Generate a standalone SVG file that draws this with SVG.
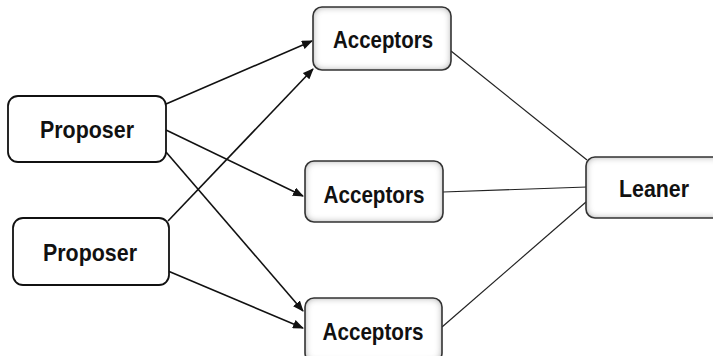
<svg xmlns="http://www.w3.org/2000/svg" width="713" height="356" viewBox="0 0 713 356">
  <style>
    .plain { fill: #ffffff; stroke: #111111; stroke-width: 1.8; }
    .shade { fill: #ffffff; filter: url(#inset); }
    .edge { fill: none; stroke: #333333; stroke-width: 1.6; }
    .lbl { font-family: "Liberation Sans", Arial, sans-serif; font-weight: bold; font-size: 24px; fill: #111111; text-anchor: middle; }
    .arrow { fill: none; stroke: #111111; stroke-width: 1.6; marker-end: url(#head); }
    .link { fill: none; stroke: #222222; stroke-width: 1.2; }
  </style>
  <defs>
    <marker id="head" markerUnits="userSpaceOnUse" markerWidth="11" markerHeight="9" refX="10" refY="4.5" orient="auto">
      <path d="M0,0 L11,4.5 L0,9 z" fill="#111111"/>
    </marker>
    <!-- soft grey glow along the inside edge of shaded boxes -->
    <filter id="inset" x="-10%" y="-10%" width="120%" height="120%">
      <feFlood flood-color="#8c8c8c"/>
      <feComposite in2="SourceAlpha" operator="out"/>
      <feGaussianBlur stdDeviation="3.5"/>
      <feComposite in2="SourceAlpha" operator="in" result="shadow"/>
      <feMerge>
        <feMergeNode in="SourceGraphic"/>
        <feMergeNode in="shadow"/>
      </feMerge>
    </filter>
  </defs>
  <rect width="713" height="356" fill="#ffffff"/>

  <g id="connectors">
    <line class="arrow" x1="166" y1="104" x2="312" y2="41"/>
    <line class="arrow" x1="168" y1="221" x2="313" y2="69"/>
    <line class="arrow" x1="166" y1="130" x2="303" y2="196"/>
    <line class="arrow" x1="166" y1="152" x2="303" y2="311"/>
    <line class="arrow" x1="168" y1="271" x2="303" y2="328"/>
    <line class="link" x1="451" y1="51" x2="587" y2="160"/>
    <line class="link" x1="443" y1="192" x2="587" y2="187"/>
    <line class="link" x1="442" y1="327" x2="586" y2="202"/>
  </g>

  <g id="proposer1">
    <rect class="plain" x="8" y="96" width="158" height="66" rx="10"/>
    <text class="lbl" x="87" y="138" textLength="94" lengthAdjust="spacingAndGlyphs">Proposer</text>
  </g>
  <g id="proposer2">
    <rect class="plain" x="13" y="218" width="156" height="67" rx="10"/>
    <text class="lbl" x="90" y="261" textLength="94" lengthAdjust="spacingAndGlyphs">Proposer</text>
  </g>

  <g id="acceptors1">
    <rect class="shade" x="313" y="7" width="138" height="63" rx="9"/>
    <rect class="edge" x="313" y="7" width="138" height="63" rx="9"/>
    <text class="lbl" x="383" y="48" textLength="100" lengthAdjust="spacingAndGlyphs">Acceptors</text>
  </g>
  <g id="acceptors2">
    <rect class="shade" x="305" y="161" width="138" height="61" rx="9"/>
    <rect class="edge" x="305" y="161" width="138" height="61" rx="9"/>
    <text class="lbl" x="374" y="203" textLength="101" lengthAdjust="spacingAndGlyphs">Acceptors</text>
  </g>
  <g id="acceptors3">
    <rect class="shade" x="305" y="298" width="137" height="64" rx="9"/>
    <rect class="edge" x="305" y="298" width="137" height="64" rx="9"/>
    <text class="lbl" x="373" y="340" textLength="101" lengthAdjust="spacingAndGlyphs">Acceptors</text>
  </g>

  <g id="leaner">
    <rect class="shade" x="586" y="157" width="140" height="61" rx="9"/>
    <rect class="edge" x="586" y="157" width="140" height="61" rx="9"/>
    <text class="lbl" x="654" y="197" textLength="70" lengthAdjust="spacingAndGlyphs">Leaner</text>
  </g>
</svg>
